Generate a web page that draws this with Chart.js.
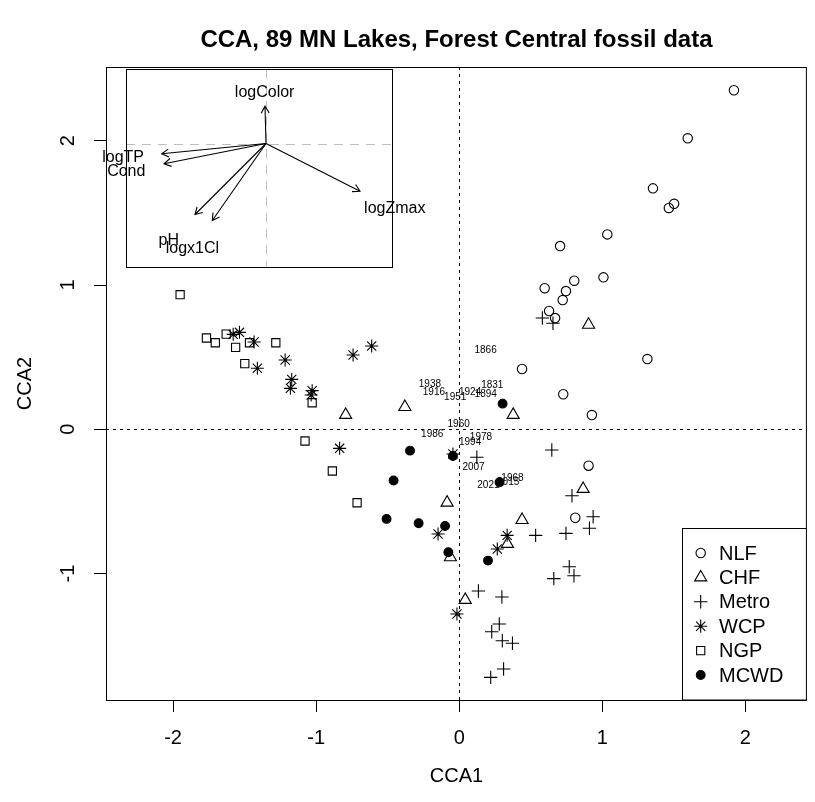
<!DOCTYPE html>
<html><head><meta charset="utf-8">
<script src="https://cdn.jsdelivr.net/npm/chart.js@4.4.1/dist/chart.umd.min.js"></script>
<style>html,body{margin:0;padding:0;background:#fff;}</style>
</head><body>
<canvas id="c" width="815" height="802"></canvas>
<script>
// ---------- data (CCA site scores) ----------
const NLF_x = [1.92, 1.597, 1.354, 1.502, 1.465, 1.035, 0.705, 1.008, 0.804, 0.746, 0.723, 0.597, 0.628, 0.670, 0.439, 0.727, 1.315, 0.927, 0.904, 0.811];
const NLF_y = [2.35, 2.017, 1.670, 1.563, 1.534, 1.351, 1.270, 1.053, 1.030, 0.958, 0.896, 0.978, 0.820, 0.771, 0.418, 0.243, 0.487, 0.099, -0.252, -0.613];
const CHF_x = [0.904, 0.377, -0.794, -0.38, -0.085, 0.866, 0.439, 0.337, -0.062, 0.042];
const CHF_y = [0.725, 0.100, 0.100, 0.155, -0.508, -0.413, -0.628, -0.794, -0.887, -1.182];
const Metro_x = [0.123, 0.647, 0.788, 0.936, 0.910, 0.534, 0.746, 0.769, 0.802, 0.661, 0.134, 0.298, 0.280, 0.227, 0.301, 0.372, 0.310, 0.220, 0.581, 0.655];
const Metro_y = [-0.194, -0.143, -0.460, -0.606, -0.686, -0.735, -0.721, -0.952, -1.015, -1.035, -1.121, -1.162, -1.349, -1.403, -1.465, -1.483, -1.661, -1.719, 0.771, 0.735];
const WCP_x = [-1.580, -1.536, -1.434, -1.411, -1.217, -1.171, -1.180, -1.028, -1.035, -0.742, -0.612, -0.836, -0.044, -0.148, 0.335, 0.266, -0.016];
const WCP_y = [0.658, 0.672, 0.605, 0.423, 0.480, 0.346, 0.284, 0.268, 0.238, 0.515, 0.577, -0.132, -0.171, -0.726, -0.735, -0.830, -1.280];
const NGP_x = [-1.951, -1.767, -1.705, -1.629, -1.563, -1.466, -1.282, -1.499, -1.028, -1.078, -0.887, -0.714];
const NGP_y = [0.933, 0.633, 0.600, 0.660, 0.568, 0.600, 0.600, 0.455, 0.184, -0.081, -0.289, -0.509];
const MCWD_x = [0.303, -0.344, -0.044, -0.459, 0.282, -0.508, -0.284, -0.099, -0.076, 0.201];
const MCWD_y = [0.178, -0.148, -0.185, -0.355, -0.367, -0.621, -0.651, -0.670, -0.852, -0.910];

// fossil (passive) sample years and their scores
const yearLabels = ["1866","1938","1916","1951","1924","1831","1894","1960","1986","1978","1994","2007","1968","2021","2015"];
const yearX = [0.184, -0.205, -0.177, -0.028, 0.076, 0.231, 0.185, -0.004, -0.189, 0.152, 0.076, 0.100, 0.372, 0.204, 0.342];
const yearY = [0.545, 0.314, 0.256, 0.222, 0.256, 0.302, 0.245, 0.032, -0.035, -0.055, -0.093, -0.263, -0.340, -0.386, -0.370];

// environmental biplot arrows (inset)
const envNames = ["logColor", "logTP", "Cond", "pH", "logx1Cl", "logZmax"];
const envX = [-0.010, -1.043, -1.020, -0.710, -0.537, 0.940];
const envY = [0.373, -0.103, -0.203, -0.710, -0.770, -0.477];

const groupNames = ["NLF", "CHF", "Metro", "WCP", "NGP", "MCWD"];
const xTicks = [-2, -1, 0, 1, 2];
const yTicks = [-1, 0, 1, 2];
const titleText = 'CCA, 89 MN Lakes, Forest Central fossil data';

// ---------- styling ----------
const FONT = '"Liberation Sans", Arial, Helvetica, sans-serif';
const styles = {
  NLF:   {pointStyle: 'circle',   radius: 4.7, fill: 'rgba(0,0,0,0)'},
  CHF:   {pointStyle: 'triangle', radius: 7.0, fill: 'rgba(0,0,0,0)'},
  Metro: {pointStyle: 'cross',    radius: 6.7, fill: 'rgba(0,0,0,0)'},
  WCP:   {pointStyle: 'star',     radius: 6.5, fill: 'rgba(0,0,0,0)'},
  NGP:   {pointStyle: 'rect',     radius: 5.8, fill: 'rgba(0,0,0,0)'},
  MCWD:  {pointStyle: 'circle',   radius: 4.4, fill: '#000'}
};
const seriesX = {NLF: NLF_x, CHF: CHF_x, Metro: Metro_x, WCP: WCP_x, NGP: NGP_x, MCWD: MCWD_x};
const seriesY = {NLF: NLF_y, CHF: CHF_y, Metro: Metro_y, WCP: WCP_y, NGP: NGP_y, MCWD: MCWD_y};

function makeDataset(name) {
  const s = styles[name];
  return {
    label: name,
    data: seriesX[name].map((v, i) => ({x: v, y: seriesY[name][i]})),
    pointStyle: s.pointStyle,
    pointRadius: s.radius,
    pointHoverRadius: s.radius,
    pointBackgroundColor: s.fill,
    pointBorderColor: '#000',
    pointBorderWidth: 1.1,
    showLine: false
  };
}
// MCWD drawn on top (index 0 is drawn last by Chart.js)
const drawOrder = ["MCWD", "NGP", "WCP", "Metro", "CHF", "NLF"];

const plotLimits = {xmin: -2.469, xmax: 2.430, ymin: -1.876, ymax: 2.511};
const inset = {left: 126, top: 69, right: 392, bottom: 267, xmin: -1.40, xmax: 1.26, ymin: -1.235, ymax: 0.745, labelMult: 1.37};
const legendBox = {left: 682, top: 528, symX: 700.7, textX: 719, firstY: 553, step: 24.4};

function arrow(ctx, x0, y0, x1, y1, len) {
  const ang = Math.atan2(y1 - y0, x1 - x0);
  ctx.beginPath();
  ctx.moveTo(x0, y0); ctx.lineTo(x1, y1);
  ctx.moveTo(x1 - len * Math.cos(ang - Math.PI / 6), y1 - len * Math.sin(ang - Math.PI / 6));
  ctx.lineTo(x1, y1);
  ctx.lineTo(x1 - len * Math.cos(ang + Math.PI / 6), y1 - len * Math.sin(ang + Math.PI / 6));
  ctx.stroke();
}

function drawSymbol(ctx, name, x, y) {
  const s = styles[name];
  ctx.save();
  ctx.fillStyle = s.fill; ctx.strokeStyle = '#000'; ctx.lineWidth = 1.1;
  if (Chart.helpers && Chart.helpers.drawPoint) {
    Chart.helpers.drawPoint(ctx, {pointStyle: s.pointStyle, radius: s.radius, rotation: 0, borderWidth: 1.1}, x, y);
  }
  ctx.restore();
}

const overlay = {
  id: 'overlay',
  beforeDatasetsDraw(chart) {
    const {ctx, chartArea: a, scales: {x, y}} = chart;
    ctx.save();
    // main title, centred over the plot region
    ctx.fillStyle = '#000';
    ctx.font = 'bold 24px ' + FONT;
    ctx.textAlign = 'center'; ctx.textBaseline = 'middle';
    ctx.fillText(titleText, (a.left + a.right) / 2, 40);
    // zero reference lines (dotted)
    ctx.strokeStyle = '#000'; ctx.lineWidth = 1; ctx.setLineDash([3, 4]);
    const x0 = Math.round(x.getPixelForValue(0)) + 0.5;
    const y0 = Math.round(y.getPixelForValue(0)) + 0.5;
    ctx.beginPath();
    ctx.moveTo(x0, a.top); ctx.lineTo(x0, a.bottom);
    ctx.moveTo(a.left, y0); ctx.lineTo(a.right, y0);
    ctx.stroke();
    ctx.setLineDash([]);
    // year labels of fossil samples
    ctx.font = '10px ' + FONT;
    yearLabels.forEach((t, i) => ctx.fillText(t, x.getPixelForValue(yearX[i]), y.getPixelForValue(yearY[i])));
    ctx.restore();
  },
  afterDatasetsDraw(chart) {
    const {ctx, chartArea: a} = chart;
    ctx.save();
    ctx.strokeStyle = '#000'; ctx.lineWidth = 1;
    // plot frame
    ctx.strokeRect(a.left + 0.5, a.top + 0.5, a.right - a.left - 1, a.bottom - a.top);

    // ---- inset biplot ----
    const ix = v => inset.left + (v - inset.xmin) / (inset.xmax - inset.xmin) * (inset.right - inset.left);
    const iy = v => inset.bottom - (v - inset.ymin) / (inset.ymax - inset.ymin) * (inset.bottom - inset.top);
    ctx.fillStyle = '#fff';
    ctx.fillRect(inset.left, inset.top, inset.right - inset.left, inset.bottom - inset.top);
    ctx.strokeStyle = '#bebebe'; ctx.setLineDash([9, 7]);
    ctx.beginPath();
    ctx.moveTo(Math.round(ix(0)) + 0.5, inset.top); ctx.lineTo(Math.round(ix(0)) + 0.5, inset.bottom);
    ctx.moveTo(inset.left, Math.round(iy(0)) + 0.5); ctx.lineTo(inset.right, Math.round(iy(0)) + 0.5);
    ctx.stroke();
    ctx.setLineDash([]);
    ctx.strokeStyle = '#000';
    ctx.strokeRect(inset.left + 0.5, inset.top + 0.5, inset.right - inset.left, inset.bottom - inset.top);
    ctx.lineWidth = 1.1;
    envNames.forEach((n, i) => arrow(ctx, ix(0), iy(0), ix(envX[i]), iy(envY[i]), 8));
    ctx.fillStyle = '#000';
    ctx.font = '16px ' + FONT;
    ctx.textAlign = 'center'; ctx.textBaseline = 'middle';
    envNames.forEach((n, i) => ctx.fillText(n, ix(envX[i] * inset.labelMult), iy(envY[i] * inset.labelMult)));

    // ---- legend ----
    ctx.lineWidth = 1;
    ctx.fillStyle = '#fff';
    ctx.fillRect(legendBox.left, legendBox.top, a.right - legendBox.left, a.bottom - legendBox.top);
    ctx.strokeRect(legendBox.left + 0.5, legendBox.top + 0.5, a.right - legendBox.left - 1, a.bottom - legendBox.top - 0.5);
    ctx.font = '20px ' + FONT;
    ctx.textAlign = 'left'; ctx.textBaseline = 'middle';
    groupNames.forEach((g, i) => {
      const yy = legendBox.firstY + i * legendBox.step;
      drawSymbol(ctx, g, legendBox.symX, yy);
      ctx.fillStyle = '#000';
      ctx.fillText(g, legendBox.textX, yy + 1);
    });
    ctx.restore();
  }
};

new Chart(document.getElementById('c'), {
  type: 'scatter',
  data: {datasets: drawOrder.map(makeDataset)},
  options: {
    responsive: false,
    devicePixelRatio: 1,
    animation: false,
    events: [],
    layout: {padding: {left: 0, right: 2, top: 67, bottom: 0}},
    plugins: {
      legend: {display: false},
      tooltip: {enabled: false},
      title: {display: false}
    },
    scales: {
      x: {
        type: 'linear',
        min: plotLimits.xmin, max: plotLimits.xmax,
        afterBuildTicks: s => { s.ticks = xTicks.map(v => ({value: v})); },
        afterFit: s => { s.height = 102; },
        border: {display: false},
        grid: {drawOnChartArea: false, drawTicks: true, tickLength: 12, tickColor: '#000', tickWidth: 1},
        ticks: {color: '#000', font: {family: FONT, size: 20}, padding: 14, maxRotation: 0, autoSkip: false, includeBounds: false},
        title: {display: true, text: 'CCA1', color: '#000', font: {family: FONT, size: 20}, padding: {top: 0, bottom: 14}}
      },
      y: {
        type: 'linear',
        min: plotLimits.ymin, max: plotLimits.ymax,
        afterBuildTicks: s => { s.ticks = yTicks.map(v => ({value: v})); },
        afterFit: s => { s.width = 106; },
        border: {display: false},
        grid: {drawOnChartArea: false, drawTicks: true, tickLength: 12, tickColor: '#000', tickWidth: 1},
        ticks: {color: '#000', font: {family: FONT, size: 20}, padding: 17, minRotation: 90, maxRotation: 90, crossAlign: 'center', autoSkip: false, includeBounds: false},
        title: {display: true, text: 'CCA2', color: '#000', font: {family: FONT, size: 20}, padding: {top: 13, bottom: 0}}
      }
    }
  },
  plugins: [overlay]
});
</script>
</body></html>
